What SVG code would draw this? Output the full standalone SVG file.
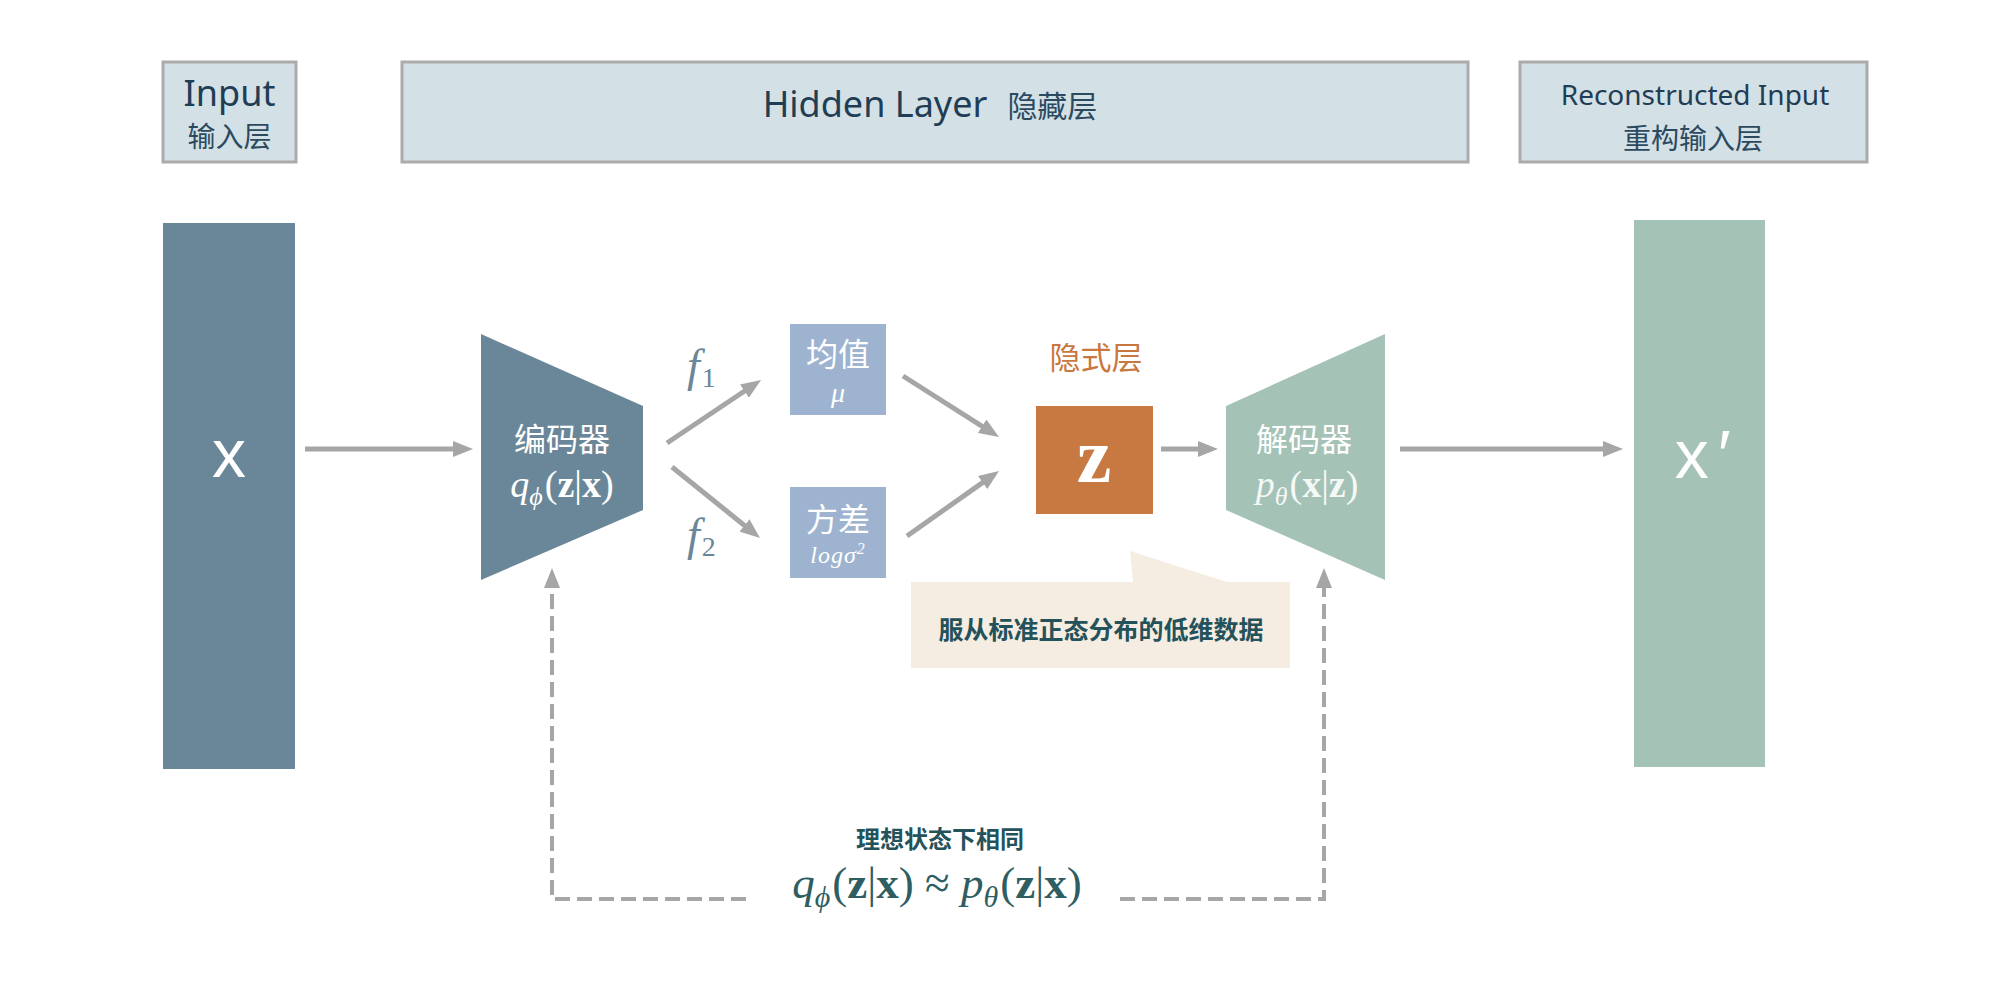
<svg xmlns="http://www.w3.org/2000/svg" width="2000" height="1000" viewBox="0 0 2000 1000">
<defs>
<marker id="ah" viewBox="0 0 20 16" markerWidth="20" markerHeight="16" refX="2" refY="8" orient="auto" markerUnits="userSpaceOnUse">
<path d="M0,0 L20,8 L0,16 z" fill="#A6A6A6"/>
</marker>
<style>
.hdr{fill:#D3E0E5;stroke:#ABABAB;stroke-width:3}
.en{font-family:"Noto Sans","Open Sans","Liberation Sans",sans-serif;fill:#1F3D54}
.cn{font-family:"Noto Sans CJK SC","Noto Sans",sans-serif}
.math{font-family:"Liberation Serif","DejaVu Serif",serif}
.it{font-style:italic}
.bd{font-weight:bold}
.conn{stroke:#A6A6A6;stroke-width:5;fill:none}
.dash{stroke:#A6A6A6;stroke-width:4;fill:none;stroke-dasharray:15 7}
.wt{fill:#FFFFFF}
</style>
</defs>
<rect width="2000" height="1000" fill="#FFFFFF"/>

<g id="header-input">
<rect class="hdr" x="163" y="62" width="133" height="100"/>
<text class="en" x="229.5" y="106" font-size="36" text-anchor="middle">Input</text>
<text class="cn" x="229.5" y="147" font-size="28" text-anchor="middle" fill="#2B4A60">输入层</text>
</g>
<g id="header-hidden">
<rect class="hdr" x="402" y="62" width="1066" height="100"/>
<text x="930" y="117" text-anchor="middle"><tspan class="en" font-size="36">Hidden Layer</tspan><tspan class="cn" font-size="30" dx="20" fill="#2B4A60">隐藏层</tspan></text>
</g>
<g id="header-recon">
<rect class="hdr" x="1520" y="62" width="347" height="100"/>
<text class="en" x="1695" y="105" font-size="28" text-anchor="middle">Reconstructed Input</text>
<text class="cn" x="1693" y="149" font-size="28" text-anchor="middle" fill="#2B4A60">重构输入层</text>
</g>

<g id="input-x">
<rect x="163" y="223" width="132" height="546" fill="#6A8799"/>
<text x="229" y="477" font-family="Liberation Sans, Arial, sans-serif" font-size="68" text-anchor="middle" class="wt">x</text>
</g>

<g id="encoder">
<polygon points="481,334 643,406 643,510 481,580" fill="#6A8799"/>
<text class="cn wt" x="562" y="451" font-size="32" text-anchor="middle">编码器</text>
<text class="math wt" x="562" y="497" font-size="38" text-anchor="middle"><tspan class="it">q</tspan><tspan class="it" font-size="26" dy="8">ϕ</tspan><tspan dy="-8" dx="2">(</tspan><tspan class="bd">z</tspan>|<tspan class="bd">x</tspan>)</text>
</g>

<g id="mean">
<rect x="790" y="324" width="96" height="91" fill="#9DB3CF"/>
<text class="cn wt" x="838" y="366" font-size="32" text-anchor="middle">均值</text>
<text class="math it wt" x="838" y="402" font-size="28" text-anchor="middle">μ</text>
</g>

<g id="variance">
<rect x="790" y="487" width="96" height="91" fill="#9DB3CF"/>
<text class="cn wt" x="838" y="531" font-size="32" text-anchor="middle">方差</text>
<text class="math it wt" x="838" y="563" font-size="24" text-anchor="middle" letter-spacing="1">logσ<tspan font-size="16" dy="-9">2</tspan></text>
</g>

<g id="latent">
<text class="cn" x="1096" y="369" font-size="31" text-anchor="middle" fill="#C8773F">隐式层</text>
<rect x="1036" y="406" width="117" height="108" fill="#C87941"/>
<text class="math bd wt" x="1094" y="482" font-size="78" text-anchor="middle">z</text>
</g>

<g id="decoder">
<polygon points="1226,406 1385,334 1385,580 1226,510" fill="#A5C2B6"/>
<text class="cn wt" x="1304" y="451" font-size="32" text-anchor="middle">解码器</text>
<text class="math" x="1307" y="497" font-size="38" text-anchor="middle" fill="#F4F8F6"><tspan class="it">p</tspan><tspan class="it" font-size="26" dy="8">θ</tspan><tspan dy="-8" dx="2">(</tspan><tspan class="bd">x</tspan>|<tspan class="bd">z</tspan>)</text>
</g>

<g id="output-x">
<rect x="1634" y="220" width="131" height="547" fill="#A5C2B6"/>
<text x="1701" y="478" font-family="Liberation Sans, Arial, sans-serif" font-size="68" text-anchor="middle" class="wt">x<tspan class="it" dx="6">′</tspan></text>
</g>

<g id="callout">
<path d="M911,582 L1133,582 L1130,551 L1227,582 L1290,582 L1290,668 L911,668 Z" fill="#F5ECE2"/>
<text class="cn bd" x="1101" y="639" font-size="25" text-anchor="middle" fill="#24525A">服从标准正态分布的低维数据</text>
</g>

<g id="equal-note">
<text class="cn bd" x="940" y="848" font-size="24" text-anchor="middle" fill="#24525A">理想状态下相同</text>
<text class="math" x="937" y="898" font-size="45" text-anchor="middle" fill="#2E5E62"><tspan class="it">q</tspan><tspan class="it" font-size="30" dy="9">ϕ</tspan><tspan dy="-9" dx="2">(</tspan><tspan class="bd">z</tspan>|<tspan class="bd">x</tspan>) ≈ <tspan class="it">p</tspan><tspan class="it" font-size="30" dy="9">θ</tspan><tspan dy="-9" dx="2">(</tspan><tspan class="bd">z</tspan>|<tspan class="bd">x</tspan>)</text>
</g>

<g id="f-labels">
<text class="math it" x="687" y="381" font-size="46" fill="#6A8799">f<tspan font-style="normal" font-size="28" dy="6" dx="2">1</tspan></text>
<text class="math it" x="687" y="550" font-size="46" fill="#6A8799">f<tspan font-style="normal" font-size="28" dy="6" dx="2">2</tspan></text>
</g>

<g id="connectors">
<line class="conn" x1="305" y1="449" x2="455" y2="449" marker-end="url(#ah)"/>
<line class="conn" x1="667" y1="443" x2="746.1" y2="390" marker-end="url(#ah)"/>
<line class="conn" x1="672" y1="467" x2="746" y2="526.7" marker-end="url(#ah)"/>
<line class="conn" x1="903" y1="376" x2="983.8" y2="427.3" marker-end="url(#ah)"/>
<line class="conn" x1="907" y1="536" x2="984.3" y2="481.4" marker-end="url(#ah)"/>
<line class="conn" x1="1161" y1="449" x2="1200" y2="449" marker-end="url(#ah)"/>
<line class="conn" x1="1400" y1="449" x2="1605" y2="449" marker-end="url(#ah)"/>
<polyline class="dash" points="746,899 552,899 552,586" marker-end="url(#ah)"/>
<polyline class="dash" points="1120,899 1324,899 1324,586" marker-end="url(#ah)"/>
</g>
</svg>
